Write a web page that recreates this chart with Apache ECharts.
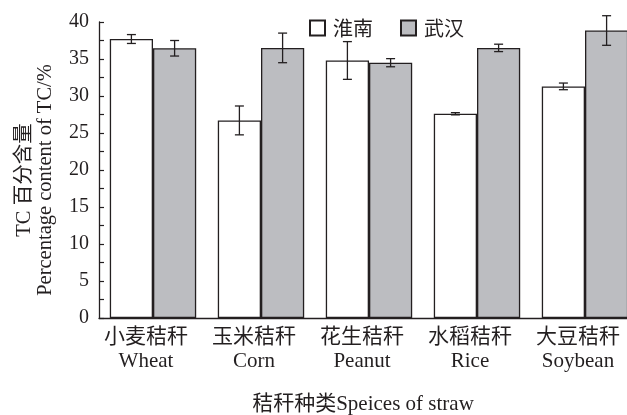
<!DOCTYPE html>
<html>
<head>
<meta charset="utf-8">
<script src="https://cdn.jsdelivr.net/npm/echarts@6/dist/echarts.min.js"></script>
<style>
  html, body { margin: 0; padding: 0; background: #fff; }
  #chart { width: 627px; height: 415px; }
</style>
</head>
<body>
<div id="chart"></div>
<script>
// Straw species (Chinese name + English name)
const categories = ['小麦秸秆\nWheat', '玉米秸秆\nCorn', '花生秸秆\nPeanut', '水稻秸秆\nRice', '大豆秸秆\nSoybean'];
// TC percentage content by site
const huainan = [37.7, 26.7, 34.8, 27.6, 31.3];
const huainanErr = [0.6, 1.95, 2.55, 0.15, 0.45];
const wuhan = [36.45, 36.5, 34.5, 36.5, 38.85];
const wuhanErr = [1.05, 2.0, 0.55, 0.5, 2.0];
const yTicks = [0, 5, 10, 15, 20, 25, 30, 35, 40];

const SERIF = '"Liberation Serif", "Noto Sans CJK SC", serif';
const INK = '#231f20';
const BAR_SHARE = 0.4; // each bar takes 40% of a category band

function errorSeries(values, errs, side) {
  return {
    type: 'custom',
    silent: true,
    z: 5,
    data: values.map((v, i) => [i, v, errs[i]]),
    renderItem: function (params, api) {
      const i = api.value(0), v = api.value(1), e = api.value(2);
      const band = api.size([1, 0])[0];
      const dx = side * band * BAR_SHARE / 2;
      const top = api.coord([i, v + e]);
      const bot = api.coord([i, v - e]);
      const x = top[0] + dx;
      const cap = 4.5;
      const style = { stroke: INK, lineWidth: 1.3 };
      return {
        type: 'group',
        children: [
          { type: 'line', shape: { x1: x, y1: top[1], x2: x, y2: bot[1] }, style: style },
          { type: 'line', shape: { x1: x - cap, y1: top[1], x2: x + cap, y2: top[1] }, style: style },
          { type: 'line', shape: { x1: x - cap, y1: bot[1], x2: x + cap, y2: bot[1] }, style: style }
        ]
      };
    }
  };
}

const chart = echarts.init(document.getElementById('chart'));
chart.setOption({
  animation: false,
  backgroundColor: '#fff',
  grid: { left: 99, top: 22, width: 540, height: 296, containLabel: false, outerBoundsMode: 'none' },
  legend: {
    left: 304,
    top: 13,
    itemWidth: 15,
    itemHeight: 15,
    itemGap: 27,
    icon: 'rect',
    textStyle: { fontFamily: '"Noto Sans CJK SC", sans-serif', fontSize: 20, color: INK, padding: [0, 0, 0, 3] },
    data: ['淮南', '武汉']
  },
  xAxis: {
    type: 'category',
    data: categories,
    axisLine: { lineStyle: { color: INK, width: 1.3 } },
    axisTick: { show: false },
    axisLabel: {
      interval: 0,
      margin: 7,
      fontFamily: SERIF,
      fontSize: 21,
      lineHeight: 24,
      color: INK,
      padding: [0, 14, 0, 0]
    },
    name: '秸秆种类Speices of straw',
    nameLocation: 'middle',
    nameGap: 76,
    nameTextStyle: { fontFamily: SERIF, fontSize: 21, color: INK, padding: [0, 12, 0, 0] }
  },
  yAxis: {
    type: 'value',
    min: 0,
    max: 40,
    interval: 2.5,
    splitLine: { show: false },
    axisLine: { show: true, lineStyle: { color: INK, width: 1.3 } },
    axisTick: { show: true, inside: true, length: 5, lineStyle: { color: INK, width: 1.2 } },
    axisLabel: {
      margin: 10,
      fontFamily: SERIF,
      fontSize: 20,
      color: INK,
      formatter: function (v) { return yTicks.indexOf(v) >= 0 ? String(v) : ''; }
    },
    name: 'TC 百分含量\nPercentage content of TC/%',
    nameLocation: 'middle',
    nameGap: 43,
    nameTextStyle: { fontFamily: SERIF, fontSize: 20.5, lineHeight: 21, color: INK, padding: [0, 20, 0, 0] }
  },
  series: [
    {
      name: '淮南',
      type: 'bar',
      data: huainan,
      barWidth: (BAR_SHARE * 100) + '%',
      barGap: '0%',
      itemStyle: { color: '#ffffff', borderColor: INK, borderWidth: 1.3 }
    },
    {
      name: '武汉',
      type: 'bar',
      data: wuhan,
      barWidth: (BAR_SHARE * 100) + '%',
      barGap: '0%',
      itemStyle: { color: '#bcbdc1', borderColor: INK, borderWidth: 1.3 }
    },
    errorSeries(huainan, huainanErr, -1),
    errorSeries(wuhan, wuhanErr, 1)
  ]
});
</script>
</body>
</html>
